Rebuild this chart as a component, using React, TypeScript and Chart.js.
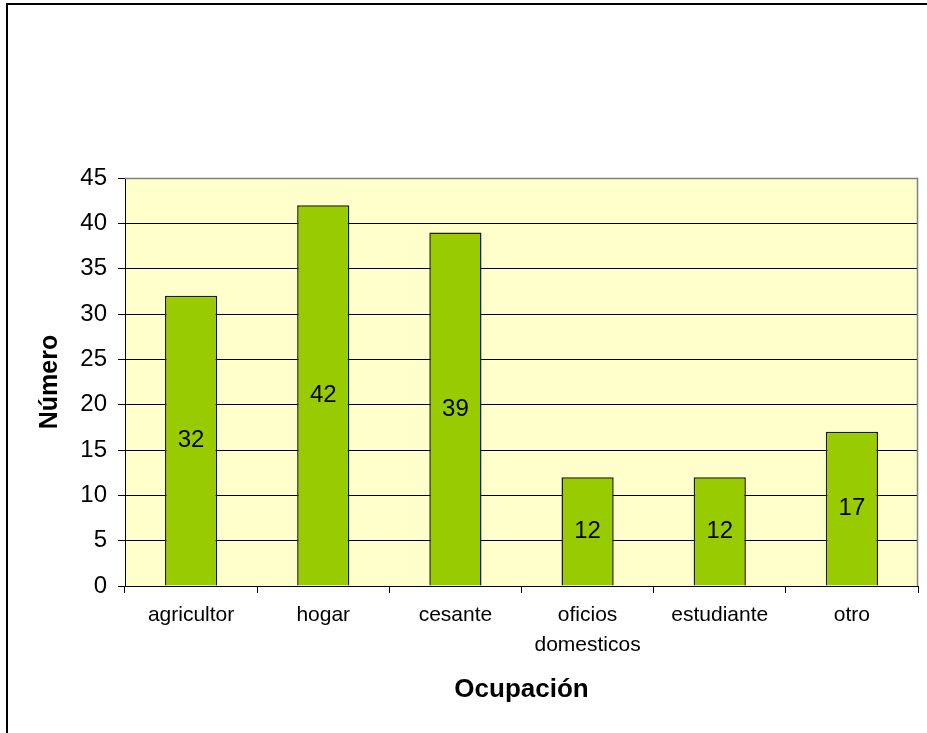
import React, { useEffect, useRef } from "react";
import { Chart, registerables } from "chart.js";

Chart.register(...registerables);

const categories: (string | string[])[] = [
  "agricultor",
  "hogar",
  "cesante",
  ["oficios", "domesticos"],
  "estudiante",
  "otro",
];
const values: number[] = [32, 42, 39, 12, 12, 17];
const yTitle = "Número";
const xTitle = "Ocupación";

const FONT = '"Liberation Sans", Arial, sans-serif';

const plotDecor = {
  id: "plotDecor",
  beforeDraw(chart: any) {
    const { ctx, chartArea } = chart;
    ctx.save();
    ctx.fillStyle = "#FFFFCC";
    ctx.fillRect(chartArea.left, chartArea.top, chartArea.right - chartArea.left, chartArea.bottom - chartArea.top);
    ctx.restore();
  },
  afterDraw(chart: any) {
    const { ctx, chartArea } = chart;
    ctx.save();
    ctx.strokeStyle = "#808080";
    ctx.lineWidth = 1.5;
    ctx.beginPath();
    ctx.moveTo(chartArea.left, chartArea.top + 0.5);
    ctx.lineTo(chartArea.right - 0.5, chartArea.top + 0.5);
    ctx.lineTo(chartArea.right - 0.5, chartArea.bottom);
    ctx.stroke();
    ctx.restore();
  },
  afterDatasetsDraw(chart: any) {
    const { ctx } = chart;
    const meta = chart.getDatasetMeta(0);
    ctx.save();
    ctx.fillStyle = "#000";
    ctx.font = `24px ${FONT}`;
    ctx.textAlign = "center";
    ctx.textBaseline = "middle";
    meta.data.forEach((bar: any, i: number) => {
      const v = chart.data.datasets[0].data[i];
      ctx.fillText(String(v), bar.x, (bar.y + bar.base) / 2);
    });
    ctx.restore();
  },
};

export default function App() {
  const ref = useRef<HTMLCanvasElement | null>(null);
  useEffect(() => {
    if (!ref.current) return;
    const chart = new Chart(ref.current, {
      type: "bar",
      data: {
        labels: categories,
        datasets: [
          {
            data: values,
            backgroundColor: "#99CC00",
            borderColor: "#1a1a00",
            borderWidth: 1.5,
            barPercentage: 0.395,
            categoryPercentage: 1,
          },
        ],
      },
      options: {
        animation: false,
        responsive: false,
        maintainAspectRatio: false,
        layout: { padding: { top: 178, right: 9, left: 0, bottom: 0 } },
        plugins: {
          legend: { display: false },
          tooltip: { enabled: false },
          title: { display: false },
        },
        scales: {
          x: {
            afterFit(scale: any) {
              scale.height = 147;
            },
            grid: {
              drawOnChartArea: false,
              drawTicks: true,
              tickLength: 7,
              tickColor: "#000",
              offset: true,
            },
            border: { display: true, color: "#000", width: 1 },
            ticks: {
              color: "#000",
              font: { family: FONT, size: 21, lineHeight: 1.42 },
              padding: 7,
              maxRotation: 0,
              autoSkip: false,
            },
            title: {
              display: true,
              text: xTitle,
              color: "#000",
              font: { family: FONT, size: 26, weight: "bold", lineHeight: 1.2 },
              padding: { top: 0, bottom: 28 },
            },
          },
          y: {
            min: 0,
            max: 45,
            afterFit(scale: any) {
              scale.width = 125;
            },
            grid: {
              color: "#000",
              lineWidth: 1,
              drawTicks: true,
              tickLength: 7,
              tickColor: "#000",
            },
            border: { display: true, color: "#000", width: 1 },
            ticks: {
              stepSize: 5,
              color: "#000",
              font: { family: FONT, size: 24 },
              padding: 11,
            },
            title: {
              display: true,
              text: yTitle,
              color: "#000",
              font: { family: FONT, size: 25, weight: "bold", lineHeight: 1.2 },
              padding: { top: 35, bottom: 0 },
            },
          },
        },
      },
      plugins: [plotDecor],
    });
    return () => chart.destroy();
  }, []);

  return (
    <div
      style={{
        position: "absolute",
        left: 0,
        top: 0,
        width: 927,
        height: 733,
        overflow: "hidden",
        background: "#fff",
      }}
    >
      <canvas ref={ref} width={927} height={733} style={{ position: "absolute", left: 0, top: 0, width: 927, height: 733 }} />
      <div
        style={{
          position: "absolute",
          left: 6,
          top: 3,
          width: 1000,
          height: 1000,
          borderLeft: "2px solid #000",
          borderTop: "2px solid #000",
          pointerEvents: "none",
        }}
      />
    </div>
  );
}
